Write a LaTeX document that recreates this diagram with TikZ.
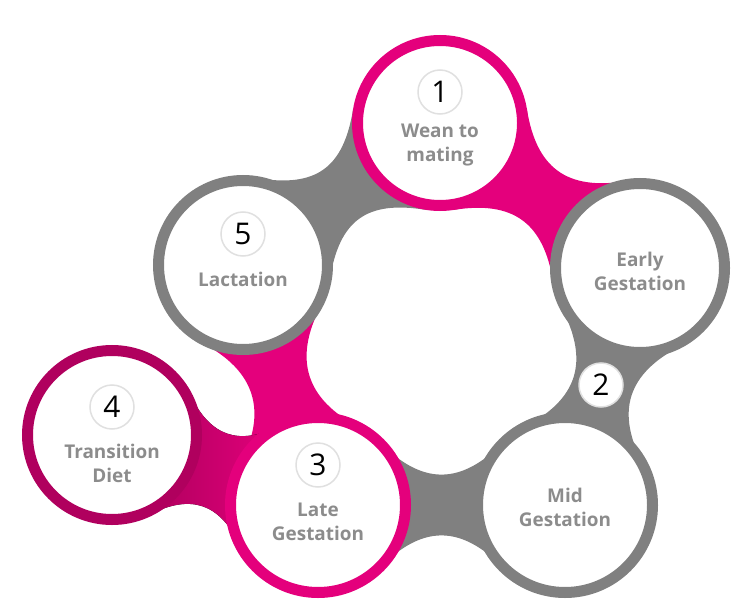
\documentclass[tikz,border=0pt]{standalone}
\usepackage{fontspec}
\setmainfont{Open Sans}
\usetikzlibrary{calc,backgrounds}
\definecolor{pinkring}{HTML}{E4007C}
\definecolor{plumring}{HTML}{B0005E}
\definecolor{grayring}{HTML}{808080}
\definecolor{labelgray}{HTML}{8C8C8C}
% neck between two stages: from, to, angle, pull, fill
\newcommand\bridge[5]{%
  \coordinate (a1) at ($(#1.center)!88bp!#3:(#2.center)$);
  \coordinate (a2) at ($(#1.center)!88bp!-#3:(#2.center)$);
  \coordinate (b1) at ($(#2.center)!88bp!-#3:(#1.center)$);
  \coordinate (b2) at ($(#2.center)!88bp!#3:(#1.center)$);
  \fill[#5] (a1) .. controls ($(a1)!#4bp!90:(#1.center)$) and ($(b1)!#4bp!-90:(#2.center)$) .. (b1)
    -- (b2) .. controls ($(b2)!#4bp!90:(#2.center)$) and ($(a2)!#4bp!-90:(#1.center)$) .. (a2) -- cycle;
}
\begin{document}
\begin{tikzpicture}[x=1bp,y=-1bp,
    stage/.style={circle, fill=white, draw=#1, line width=11bp, minimum size=169bp, inner sep=0pt},
    badge/.style={circle, fill=white, draw=black!12, line width=1.5bp, minimum size=44bp, inner sep=0pt, font=\fontsize{30}{30}\selectfont},
    stagetext/.style={align=center, text=labelgray, font=\fontsize{19}{24}\selectfont\bfseries}]
    \useasboundingbox (0,0) rectangle (743,615);
    \node[stage=pinkring, minimum size=165bp] (wean) at (440,123) {};
    \node[stage=grayring] (early) at (640,268) {};
    \node[stage=grayring, minimum size=175bp] (mid) at (565,505) {};
    \node[stage=pinkring, minimum size=175bp] (late) at (318,505) {};
    \node[stage=plumring] (trans) at (112,435) {};
    \node[stage=grayring] (lact) at (243,265) {};

    \begin{scope}[on background layer]
        \bridge{lact}{wean}{45}{60}{grayring}
        \bridge{wean}{early}{45}{60}{pinkring}
        \bridge{early}{mid}{45}{60}{grayring}
        \bridge{mid}{late}{45}{60}{grayring}
        \bridge{late}{lact}{45}{60}{pinkring}
        \bridge{trans}{late}{45}{45}{left color=plumring, right color=pinkring}
    \end{scope}

    \node[badge] (n1) at ($(wean)+(0,-31)$) {1};
    \node[badge] (n2) at (601,385) {2};
    \node[badge] (n3) at ($(late)+(0,-40)$) {3};
    \node[badge] (n4) at ($(trans)+(0,-28)$) {4};
    \node[badge] (n5) at ($(lact)+(0,-31)$) {5};

    \node[stagetext] (t1) at ($(wean)+(0,22)$) {Wean to\\mating};
    \node[stagetext] (t2) at ($(early)+(0,3)$) {Early\\Gestation};
    \node[stagetext] (tm) at ($(mid)+(0,2)$) {Mid\\Gestation};
    \node[stagetext] (t3) at ($(late)+(0,17)$) {Late\\Gestation};
    \node[stagetext] (t4) at ($(trans)+(0,28)$) {Transition\\Diet};
    \node[stagetext] (t5) at ($(lact)+(0,14)$) {Lactation};
\end{tikzpicture}
\end{document}
